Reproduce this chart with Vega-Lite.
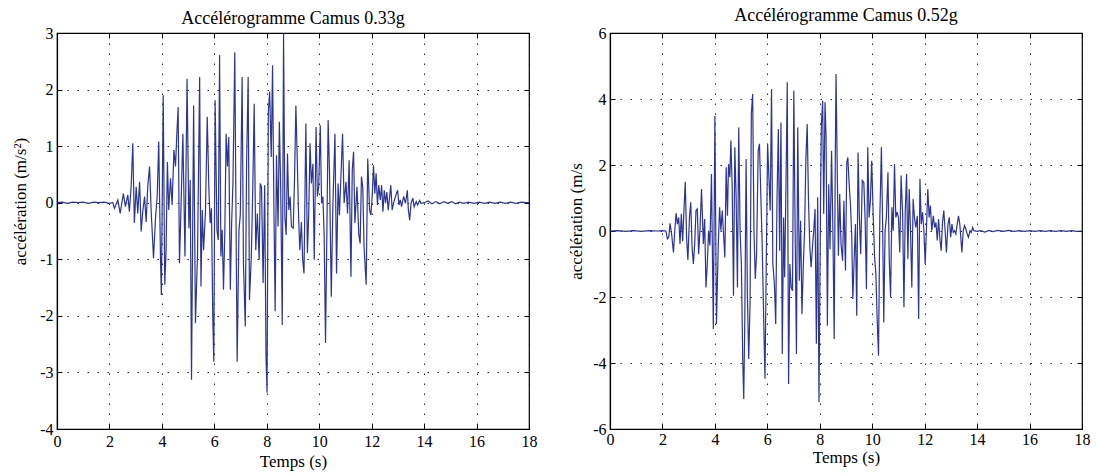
{
  "$schema": "https://vega.github.io/schema/vega-lite/v6.json",
  "background": "white",
  "padding": {"left": 11, "top": 6, "right": 0, "bottom": 0},
  "spacing": 29,
  "config": {
    "font": "Liberation Serif",
    "view": {"stroke": "black", "strokeWidth": 1.2},
    "axis": {
      "labelFont": "Liberation Serif", "titleFont": "Liberation Serif",
      "labelFontSize": 16, "titleFontSize": 17, "titleFontWeight": "normal",
      "labelColor": "black", "titleColor": "black",
      "domainColor": "black", "domainWidth": 1.2,
      "tickColor": "black", "tickSize": -5, "tickWidth": 1,
      "gridColor": "black", "gridDash": [1.5, 8.5], "gridOpacity": 0.85, "gridWidth": 1,
      "labelFlush": false, "labelOverlap": false
    },
    "title": {"font": "Liberation Serif", "fontSize": 18, "fontWeight": "normal", "color": "black"}
  },
  "datasets": {
    "a": [
      {"t":0,"v":0},{"t":0.2,"v":0.01},{"t":0.4,"v":-0.01},{"t":0.6,"v":0.01},{"t":0.8,"v":0},{"t":1.0,"v":0.01},{"t":1.2,"v":-0.01},{"t":1.4,"v":0.01},{"t":1.6,"v":0},{"t":1.8,"v":0.01},{"t":2.0,"v":-0.01},{"t":2.13,"v":0},
      {"t":2.19,"v":-0.10},{"t":2.32,"v":0.05},{"t":2.41,"v":-0.19},{"t":2.53,"v":0.16},{"t":2.61,"v":-0.07},{"t":2.70,"v":0.14},{"t":2.76,"v":-0.16},{"t":2.83,"v":0.31},{"t":2.89,"v":1.05},{"t":2.95,"v":-0.36},{"t":3.02,"v":0.28},{"t":3.08,"v":-0.19},{"t":3.15,"v":0.37},{"t":3.21,"v":-0.51},{"t":3.27,"v":-0.16},{"t":3.34,"v":0.11},{"t":3.40,"v":-0.34},{"t":3.46,"v":0.28},{"t":3.53,"v":0.64},{"t":3.59,"v":-0.13},{"t":3.68,"v":-0.98},{"t":3.76,"v":-0.25},{"t":3.82,"v":0.11},{"t":3.88,"v":1.08},{"t":3.95,"v":-1.07},{"t":3.98,"v":-1.63},{"t":4.05,"v":1.90},{"t":4.11,"v":-1.45},{"t":4.16,"v":-0.84},{"t":4.21,"v":0.72},{"t":4.26,"v":-0.13},{"t":4.33,"v":0.43},{"t":4.39,"v":-0.04},{"t":4.46,"v":0.93},{"t":4.52,"v":0.64},{"t":4.57,"v":1.22},{"t":4.62,"v":1.69},{"t":4.67,"v":-1.07},{"t":4.72,"v":-0.25},{"t":4.80,"v":1.22},{"t":4.88,"v":-0.95},{"t":4.96,"v":2.19},{"t":5.03,"v":-0.45},{"t":5.08,"v":0.40},{"t":5.13,"v":-3.13},{"t":5.21,"v":1.72},{"t":5.28,"v":-2.13},{"t":5.36,"v":-0.89},{"t":5.44,"v":2.22},{"t":5.49,"v":-1.48},{"t":5.54,"v":-0.13},{"t":5.59,"v":-0.84},{"t":5.66,"v":-0.19},{"t":5.73,"v":1.52},{"t":5.79,"v":0.28},{"t":5.84,"v":-0.36},{"t":5.89,"v":-0.10},{"t":5.94,"v":-2.01},{"t":5.98,"v":-2.81},{"t":6.03,"v":1.81},{"t":6.10,"v":-0.48},{"t":6.15,"v":-0.66},{"t":6.20,"v":2.61},{"t":6.25,"v":-0.95},{"t":6.30,"v":-0.48},{"t":6.35,"v":-1.54},{"t":6.40,"v":-0.51},{"t":6.45,"v":1.22},{"t":6.50,"v":0.64},{"t":6.55,"v":1.16},{"t":6.61,"v":-1.54},{"t":6.66,"v":-0.36},{"t":6.71,"v":0.34},{"t":6.78,"v":2.66},{"t":6.83,"v":-0.48},{"t":6.87,"v":-2.81},{"t":6.94,"v":-0.48},{"t":6.99,"v":-0.22},{"t":7.06,"v":2.22},{"t":7.11,"v":-1.07},{"t":7.18,"v":-2.19},{"t":7.23,"v":0.69},{"t":7.29,"v":2.22},{"t":7.34,"v":-1.72},{"t":7.41,"v":-0.95},{"t":7.47,"v":0.34},{"t":7.52,"v":1.75},
      {"t":7.58,"v":-0.84},{"t":7.64,"v":-0.19},{"t":7.71,"v":-1.01},{"t":7.75,"v":0.34},{"t":7.80,"v":0.28},{"t":7.86,"v":-1.42},{"t":7.92,"v":0.31},{"t":7.97,"v":-2.72},{"t":8.01,"v":-3.36},{"t":8.06,"v":1.61},{"t":8.11,"v":1.96},{"t":8.17,"v":0.81},{"t":8.22,"v":2.43},{"t":8.27,"v":-0.01},{"t":8.32,"v":-1.92},{"t":8.37,"v":0.84},{"t":8.43,"v":-0.42},{"t":8.48,"v":1.43},{"t":8.53,"v":0.28},{"t":8.59,"v":-2.16},{"t":8.64,"v":2.99},{"t":8.69,"v":-0.25},{"t":8.74,"v":-0.57},{"t":8.79,"v":0.87},{"t":8.84,"v":-0.13},{"t":8.89,"v":0.11},{"t":8.94,"v":-0.42},{"t":9.01,"v":-0.45},{"t":9.06,"v":0.46},{"t":9.11,"v":1.72},{"t":9.16,"v":0.81},{"t":9.21,"v":-0.19},{"t":9.26,"v":-0.84},{"t":9.32,"v":-0.34},{"t":9.37,"v":-1.01},{"t":9.42,"v":-1.25},{"t":9.49,"v":1.40},{"t":9.55,"v":-0.89},{"t":9.60,"v":-0.19},{"t":9.65,"v":1.05},{"t":9.70,"v":0.34},{"t":9.76,"v":0.69},{"t":9.81,"v":-1.01},{"t":9.88,"v":1.34},{"t":9.93,"v":0.11},{"t":9.98,"v":0.28},{"t":10.04,"v":1.37},{"t":10.09,"v":-0.01},{"t":10.14,"v":0.11},{"t":10.19,"v":-0.60},{"t":10.24,"v":-2.48},{"t":10.29,"v":-0.60},{"t":10.34,"v":1.46},{"t":10.39,"v":0.58},{"t":10.46,"v":-1.66},{"t":10.52,"v":-0.07},{"t":10.60,"v":1.22},{"t":10.66,"v":-1.25},{"t":10.72,"v":0.34},{"t":10.77,"v":-0.22},{"t":10.82,"v":0.37},{"t":10.89,"v":1.22},{"t":10.95,"v":-0.01},{"t":11.02,"v":0.37},{"t":11.08,"v":-0.19},{"t":11.14,"v":0.75},{"t":11.21,"v":-1.31},{"t":11.26,"v":0.58},{"t":11.31,"v":0.90},{"t":11.36,"v":-0.36},{"t":11.44,"v":0.28},{"t":11.51,"v":-0.57},{"t":11.56,"v":-0.72},{"t":11.61,"v":0.46},{"t":11.66,"v":0.28},{"t":11.71,"v":-0.78},{"t":11.79,"v":-1.45},{"t":11.85,"v":0.78},{"t":11.92,"v":-0.13},{"t":11.97,"v":-0.22},{"t":12.02,"v":0.11},{"t":12.07,"v":0.66},{"t":12.12,"v":0.16},{"t":12.17,"v":0.52},{"t":12.22,"v":-0.04},{"t":12.27,"v":0.31},{"t":12.33,"v":0.05},{"t":12.38,"v":0.31},{"t":12.43,"v":-0.16},{"t":12.48,"v":0.22},{"t":12.53,"v":-0.01},{"t":12.58,"v":0.19},{"t":12.63,"v":-0.13},{"t":12.68,"v":0.08},{"t":12.73,"v":0.31},{"t":12.78,"v":-0.13},{"t":12.83,"v":-0.01},{"t":12.89,"v":0.08},{"t":12.94,"v":0.16},{"t":12.99,"v":0.22},{"t":13.04,"v":-0.04},{"t":13.09,"v":0.05},{"t":13.14,"v":-0.07},{"t":13.22,"v":0.11},{"t":13.29,"v":-0.01},{"t":13.36,"v":0.22},{"t":13.40,"v":-0.13},{"t":13.45,"v":-0.31},{"t":13.50,"v":-0.01},{"t":13.57,"v":0.08},{"t":13.62,"v":-0.07},{"t":13.70,"v":0.02},{"t":13.75,"v":-0.04},{"t":13.83,"v":0.04},{"t":13.88,"v":-0.01},{"t":14.01,"v":0.0},
      {"t":14.15,"v":0.03},{"t":14.3,"v":-0.02},{"t":14.45,"v":0.02},{"t":14.6,"v":-0.02},{"t":14.75,"v":0.02},{"t":14.9,"v":-0.01},{"t":15.05,"v":0.02},{"t":15.2,"v":-0.02},{"t":15.35,"v":0.01},{"t":15.5,"v":-0.01},{"t":15.7,"v":0.01},{"t":15.9,"v":-0.01},{"t":16.1,"v":0.01},{"t":16.3,"v":-0.01},{"t":16.5,"v":0.01},{"t":16.7,"v":-0.01},{"t":16.9,"v":0.01},{"t":17.1,"v":-0.01},{"t":17.3,"v":0.01},{"t":17.5,"v":-0.01},{"t":17.7,"v":0.01},{"t":17.9,"v":0},{"t":18,"v":0}
    ],
    "b": [
      {"t":0,"v":0},{"t":0.3,"v":0.01},{"t":0.6,"v":-0.01},{"t":0.9,"v":0.01},{"t":1.2,"v":-0.01},{"t":1.5,"v":0.01},{"t":1.8,"v":0},{"t":2.0,"v":0.01},{"t":2.13,"v":0},
      {"t":2.19,"v":-0.24},{"t":2.24,"v":-0.19},{"t":2.29,"v":0.23},{"t":2.35,"v":-0.09},{"t":2.42,"v":-0.65},{"t":2.47,"v":0.01},{"t":2.52,"v":0.54},{"t":2.57,"v":0.21},{"t":2.62,"v":0.41},{"t":2.67,"v":-0.39},{"t":2.72,"v":0.52},{"t":2.77,"v":-0.31},{"t":2.82,"v":0.62},{"t":2.87,"v":1.49},{"t":2.92,"v":-0.19},{"t":2.97,"v":-0.88},{"t":3.03,"v":0.41},{"t":3.08,"v":0.87},{"t":3.13,"v":-0.49},{"t":3.18,"v":-1.0},{"t":3.23,"v":-0.39},{"t":3.28,"v":0.62},{"t":3.33,"v":0.67},{"t":3.38,"v":-0.70},{"t":3.43,"v":0.01},{"t":3.49,"v":1.27},{"t":3.56,"v":-0.39},{"t":3.61,"v":0.36},{"t":3.66,"v":-1.71},{"t":3.71,"v":-1.0},{"t":3.76,"v":0.01},{"t":3.81,"v":-0.44},{"t":3.87,"v":1.73},{"t":3.94,"v":-2.97},{"t":4.00,"v":3.49},{"t":4.06,"v":-2.82},{"t":4.13,"v":-0.39},{"t":4.18,"v":0.72},{"t":4.23,"v":0.01},{"t":4.28,"v":0.62},{"t":4.33,"v":-0.09},{"t":4.38,"v":-0.80},{"t":4.43,"v":1.93},{"t":4.48,"v":0.46},{"t":4.52,"v":2.03},{"t":4.57,"v":1.63},{"t":4.61,"v":2.74},{"t":4.66,"v":1.32},{"t":4.71,"v":-1.96},{"t":4.76,"v":2.54},{"t":4.81,"v":1.02},{"t":4.86,"v":-1.71},{"t":4.91,"v":3.14},{"t":4.96,"v":0.01},{"t":5.01,"v":-1.0},{"t":5.06,"v":-3.83},{"t":5.10,"v":-5.09},{"t":5.14,"v":-2.72},{"t":5.19,"v":2.18},{"t":5.24,"v":-2.01},{"t":5.29,"v":-3.88},{"t":5.34,"v":-2.21},{"t":5.39,"v":3.55},{"t":5.44,"v":4.15},{"t":5.49,"v":0.01},{"t":5.54,"v":-1.45},{"t":5.59,"v":-0.70},{"t":5.65,"v":2.43},{"t":5.70,"v":2.64},{"t":5.75,"v":1.12},{"t":5.80,"v":-0.29},{"t":5.86,"v":-2.62},{"t":5.91,"v":-4.48},{"t":5.96,"v":-1.0},{"t":6.01,"v":2.64},{"t":6.05,"v":1.83},{"t":6.11,"v":0.62},{"t":6.16,"v":4.30},{"t":6.21,"v":-1.0},{"t":6.27,"v":-1.61},{"t":6.32,"v":-2.82},{"t":6.37,"v":1.02},{"t":6.42,"v":3.09},{"t":6.47,"v":-0.60},{"t":6.52,"v":3.29},{"t":6.57,"v":-3.73},{"t":6.62,"v":0.41},{"t":6.66,"v":-1.40},{"t":6.71,"v":1.32},{"t":6.76,"v":4.51},{"t":6.81,"v":-4.64},{"t":6.86,"v":-1.0},{"t":6.91,"v":-1.71},{"t":6.96,"v":-1.81},{"t":7.01,"v":4.25},{"t":7.06,"v":0.01},{"t":7.11,"v":-3.73},{"t":7.16,"v":3.14},{"t":7.22,"v":-1.51},{"t":7.27,"v":0.31},{"t":7.32,"v":-2.52},{"t":7.37,"v":-1.10},{"t":7.42,"v":0.01},{"t":7.47,"v":2.18},{"t":7.52,"v":3.24},{"t":7.57,"v":0.92},{"t":7.62,"v":-0.49},{"t":7.67,"v":-1.10},{"t":7.72,"v":-0.49},{"t":7.77,"v":0.01},{"t":7.82,"v":0.67},{"t":7.87,"v":-3.42},{"t":7.92,"v":1.02},{"t":7.97,"v":-5.19},{"t":8.03,"v":1.02},{"t":8.06,"v":3.19},{"t":8.11,"v":3.95},{"t":8.15,"v":0.52},{"t":8.20,"v":3.90},{"t":8.24,"v":2.84},{"t":8.29,"v":-2.87},{"t":8.34,"v":1.42},{"t":8.39,"v":-0.55},{"t":8.45,"v":2.43},{"t":8.50,"v":0.01},{"t":8.55,"v":-3.27},{"t":8.59,"v":2.03},{"t":8.62,"v":4.76},{"t":8.67,"v":1.63},{"t":8.71,"v":-0.75},{"t":8.76,"v":1.12},{"t":8.81,"v":-0.39},{"t":8.87,"v":-0.90},{"t":8.92,"v":0.92},{"t":8.98,"v":-1.20},{"t":9.03,"v":2.08},{"t":9.07,"v":2.23},{"t":9.12,"v":1.42},{"t":9.17,"v":0.82},{"t":9.22,"v":-0.19},{"t":9.26,"v":-2.06},{"t":9.31,"v":-0.90},{"t":9.36,"v":0.21},{"t":9.41,"v":-2.57},{"t":9.46,"v":2.38},{"t":9.51,"v":0.41},{"t":9.56,"v":-0.70},{"t":9.62,"v":1.53},{"t":9.68,"v":1.47},{"t":9.73,"v":0.31},{"t":9.78,"v":-1.76},{"t":9.83,"v":2.54},{"t":9.88,"v":0.41},{"t":9.93,"v":0.92},{"t":9.98,"v":2.13},{"t":10.04,"v":0.41},{"t":10.09,"v":-0.80},{"t":10.14,"v":-1.30},{"t":10.19,"v":-2.72},{"t":10.24,"v":-3.78},{"t":10.29,"v":0.41},{"t":10.35,"v":2.54},{"t":10.40,"v":0.01},{"t":10.44,"v":-2.77},{"t":10.49,"v":0.01},{"t":10.54,"v":0.41},{"t":10.60,"v":1.78},{"t":10.65,"v":-0.90},{"t":10.70,"v":-2.01},{"t":10.75,"v":0.72},{"t":10.80,"v":0.01},{"t":10.85,"v":2.03},{"t":10.90,"v":0.41},{"t":10.95,"v":0.57},{"t":11.00,"v":0.41},{"t":11.05,"v":-0.65},{"t":11.10,"v":1.68},{"t":11.16,"v":0.52},{"t":11.21,"v":-2.31},{"t":11.26,"v":0.62},{"t":11.31,"v":1.73},{"t":11.36,"v":-0.85},{"t":11.41,"v":1.27},{"t":11.46,"v":0.01},{"t":11.51,"v":-1.71},{"t":11.56,"v":0.97},{"t":11.61,"v":0.41},{"t":11.66,"v":0.11},{"t":11.72,"v":0.46},{"t":11.77,"v":-2.67},{"t":11.82,"v":1.58},{"t":11.87,"v":0.21},{"t":11.92,"v":0.57},{"t":11.97,"v":0.01},{"t":12.02,"v":-1.0},{"t":12.07,"v":0.11},{"t":12.12,"v":1.27},{"t":12.17,"v":0.41},{"t":12.22,"v":0.77},{"t":12.27,"v":0.01},{"t":12.33,"v":0.46},{"t":12.38,"v":0.11},{"t":12.43,"v":0.26},{"t":12.48,"v":-0.29},{"t":12.53,"v":0.36},{"t":12.58,"v":-0.24},{"t":12.63,"v":-0.60},{"t":12.68,"v":0.26},{"t":12.73,"v":0.62},{"t":12.78,"v":0.01},{"t":12.83,"v":-0.65},{"t":12.89,"v":0.21},{"t":12.94,"v":0.41},{"t":12.99,"v":-0.19},{"t":13.04,"v":0.21},{"t":13.09,"v":-0.04},{"t":13.14,"v":0.01},{"t":13.19,"v":-0.09},{"t":13.24,"v":0.21},{"t":13.29,"v":0.46},{"t":13.34,"v":0.21},{"t":13.42,"v":-0.65},{"t":13.47,"v":0.01},{"t":13.52,"v":0.16},{"t":13.57,"v":0.06},{"t":13.62,"v":-0.09},{"t":13.67,"v":-0.19},{"t":13.73,"v":0.01},{"t":13.78,"v":-0.04},{"t":13.83,"v":0.11},{"t":13.88,"v":0.01},{"t":14.01,"v":-0.01},{"t":14.13,"v":0.01},
      {"t":14.3,"v":-0.03},{"t":14.45,"v":0.02},{"t":14.6,"v":-0.02},{"t":14.8,"v":0.02},{"t":15.0,"v":-0.01},{"t":15.2,"v":0.02},{"t":15.4,"v":-0.01},{"t":15.6,"v":0.01},{"t":15.8,"v":-0.01},{"t":16.0,"v":0.01},{"t":16.2,"v":-0.01},{"t":16.4,"v":0.01},{"t":16.6,"v":-0.01},{"t":16.8,"v":0.01},{"t":17.0,"v":-0.01},{"t":17.2,"v":0.01},{"t":17.4,"v":-0.01},{"t":17.6,"v":0.01},{"t":17.8,"v":-0.01},{"t":18,"v":0}
    ]
  },
  "hconcat": [
    {
      "width": 472, "height": 396,
      "title": {"text": "Accélérogramme Camus 0.33g", "offset": -3},
      "resolve": {"axis": {"x": "independent", "y": "independent"}},
      "layer": [
        {
          "data": {"name": "a"},
          "mark": {"type": "line", "color": "#2B3594", "strokeWidth": 1.2, "clip": true},
          "encoding": {
            "x": {"field": "t", "type": "quantitative", "scale": {"domain": [0, 18], "nice": false},
                  "axis": {"values": [0,2,4,6,8,10,12,14,16,18], "title": "Temps (s)", "grid": true, "labelPadding": 9.5, "titlePadding": 4}},
            "y": {"field": "v", "type": "quantitative", "scale": {"domain": [-4, 3], "nice": false, "zero": false},
                  "axis": {"values": [-4,-3,-2,-1,0,1,2,3], "title": "accélération (m/s²)", "grid": true, "labelPadding": 9, "titlePadding": 10, "titleY": 168,
                           "labelExpr": "datum.value < 0 ? '-' + abs(datum.value) : '' + datum.value"}}
          }
        },
        {
          "data": {"name": "a"},
          "mark": {"type": "line", "opacity": 0},
          "encoding": {
            "x": {"field": "t", "type": "quantitative",
                  "axis": {"orient": "top", "values": [0,2,4,6,8,10,12,14,16,18], "title": null, "labels": false, "grid": false, "domain": false}},
            "y": {"field": "v", "type": "quantitative",
                  "axis": {"orient": "right", "values": [-4,-3,-2,-1,0,1,2,3], "title": null, "labels": false, "grid": false, "domain": false}}
          }
        }
      ]
    },
    {
      "width": 472, "height": 396,
      "title": {"text": "Accélérogramme Camus 0.52g", "offset": -3, "dy": -3},
      "resolve": {"axis": {"x": "independent", "y": "independent"}},
      "layer": [
        {
          "data": {"name": "b"},
          "mark": {"type": "line", "color": "#2B3594", "strokeWidth": 1.2, "clip": true},
          "encoding": {
            "x": {"field": "t", "type": "quantitative", "scale": {"domain": [0, 18], "nice": false},
                  "axis": {"values": [0,2,4,6,8,10,12,14,16,18], "title": "Temps (s)", "grid": true, "labelPadding": 7, "titlePadding": 2}},
            "y": {"field": "v", "type": "quantitative", "scale": {"domain": [-6, 6], "nice": false},
                  "axis": {"values": [-6,-4,-2,0,2,4,6], "title": "accélération (m/s", "grid": true, "labelPadding": 9, "titlePadding": 7, "titleY": 188,
                           "labelExpr": "datum.value < 0 ? '-' + abs(datum.value) : '' + datum.value"}}
          }
        },
        {
          "data": {"name": "b"},
          "mark": {"type": "line", "opacity": 0},
          "encoding": {
            "x": {"field": "t", "type": "quantitative",
                  "axis": {"orient": "top", "values": [0,2,4,6,8,10,12,14,16,18], "title": null, "labels": false, "grid": false, "domain": false}},
            "y": {"field": "v", "type": "quantitative",
                  "axis": {"orient": "right", "values": [-6,-4,-2,0,2,4,6], "title": null, "labels": false, "grid": false, "domain": false}}
          }
        }
      ]
    }
  ]
}
